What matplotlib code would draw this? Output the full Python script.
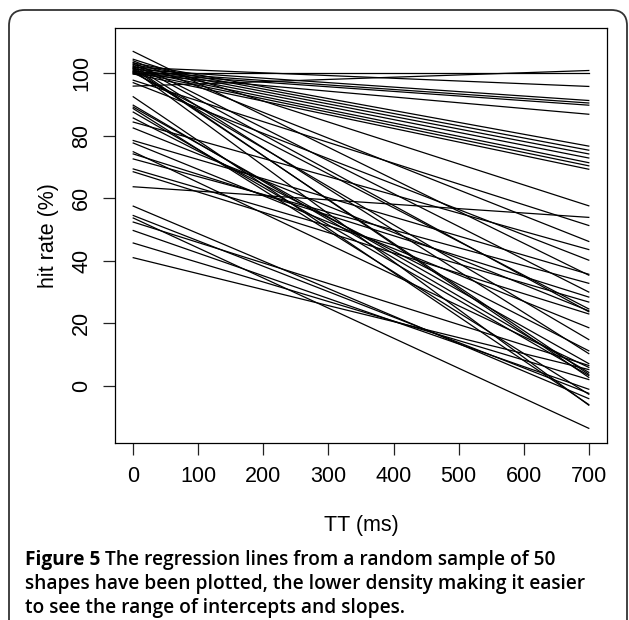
import matplotlib
matplotlib.use("Agg")
import matplotlib.pyplot as plt
from matplotlib.patches import FancyBboxPatch

# ── data: regression line values at TT = 0 ms and TT = 700 ms ────────────────
tt_ends = [0, 700]

hit_at_0 = [
    95.9, 100.0, 101.9, 101.3, 100.6, 100.1, 99.8,          # shallow, top
    103.3, 102.8, 102.2, 101.6, 101.0, 100.4, 99.8,         # bundle ending ~70-77
    107.0, 104.5, 104.0, 103.5, 103.0, 102.5, 102.0,        # steep from top
    101.5, 101.0, 100.5, 97.8, 97.0, 100.2,
    92.5, 89.8, 89.2, 88.7, 87.6, 85.7, 84.4, 82.5,         # middle intercepts
    78.5, 77.7, 74.9, 74.2, 72.6, 69.4, 68.5, 63.7,
    57.5, 54.5, 53.7, 52.4, 49.7, 45.7, 41.0,               # low intercepts
]
hit_at_700 = [
    100.9, 100.0, 95.8, 91.3, 90.5, 89.8, 86.9,
    76.7, 75.4, 74.2, 72.9, 71.4, 70.4, 69.3,
    35.4, 57.6, 46.2, 30.0, 23.7, 10.3, 2.7,
    3.7, -6.2, 14.8, 51.3, 40.2, 24.6,
    -6.0, 4.3, 7.1, -2.7, 3.3, 11.2, 43.6, 24.0,
    35.7, 18.6, 5.9, 28.4, 32.8, 26.8, 23.0, 53.9,
    -4.1, -2.4, -13.6, 6.5, -1.1, 2.0, 5.2,
]

x_ticks = [0, 100, 200, 300, 400, 500, 600, 700]
y_ticks = [0, 20, 40, 60, 80, 100]

caption_bold = "Figure 5"
caption_lines = [
    " The regression lines from a random sample of 50",
    "shapes have been plotted, the lower density making it easier",
    "to see the range of intercepts and slopes.",
]

# ── figure ───────────────────────────────────────────────────────────────────
plt.rcParams["font.family"] = "Liberation Sans"
W, H = 629, 620
fig = plt.figure(figsize=(W / 100, H / 100), dpi=100)

# rounded frame around the whole figure
frame = FancyBboxPatch((9 / W, -0.2), (627 - 9) / W, 0.2 + 1 - 10 / H,
                       boxstyle="round,pad=0,rounding_size=0.025",
                       transform=fig.transFigure, fill=False,
                       edgecolor="#333333", lw=1.3)
fig.patches.append(frame)

ax = fig.add_axes([115 / W, 1 - 443 / H, (607 - 115) / W, (443 - 28) / H])

for y0, y1 in zip(hit_at_0, hit_at_700):
    ax.plot(tt_ends, [y0, y1], color="black", lw=0.9)

ax.set_xlim(-28, 728)
ax.set_ylim(-18.3, 114.5)
ax.set_xticks(x_ticks)
ax.set_yticks(y_ticks)
ax.set_yticklabels([str(v) for v in y_ticks], rotation=90, va="center")
ax.tick_params(direction="out", length=8.5, width=0.9, pad=8,
               labelsize=15.5, color="#222222")
for sp in ax.spines.values():
    sp.set_linewidth(0.9)

ax.set_xlabel("TT (ms)", fontsize=15.5, labelpad=20)
ax.set_ylabel("hit rate (%)", fontsize=15.5, labelpad=9)

# caption
cap_font = "Open Sans"
fs = 13.8
x0 = 25 / W
t = fig.text(x0, 1 - 560 / H, caption_bold, fontsize=fs, fontweight="bold",
             family=cap_font, va="center", ha="left")
fig.canvas.draw()
bb = t.get_window_extent(renderer=fig.canvas.get_renderer())
fig.text(bb.x1 / W, 1 - 560 / H, caption_lines[0], fontsize=fs,
         fontweight="semibold", family=cap_font, va="center", ha="left")
for i, line in enumerate(caption_lines[1:]):
    fig.text(x0, 1 - (584 + 23.5 * i) / H, line, fontsize=fs,
             fontweight="semibold", family=cap_font, va="center", ha="left")

fig.savefig("out.png", dpi=100)
